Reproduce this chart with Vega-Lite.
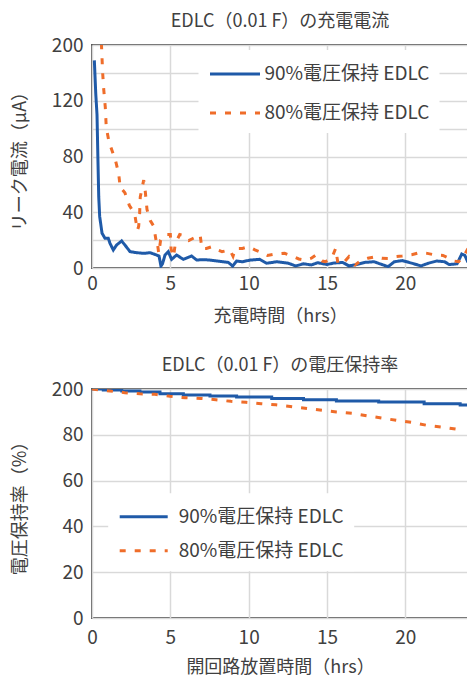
{
  "$schema": "https://vega.github.io/schema/vega-lite/v6.json",
  "padding": {"left": 10, "top": 12, "right": 0, "bottom": 0},
  "background": "white",
  "datasets": {
    "charge": [
      {"s":"90%電圧保持 EDLC","h":0.15,"v":149},{"s":"90%電圧保持 EDLC","h":0.24,"v":125},{"s":"90%電圧保持 EDLC","h":0.32,"v":110},{"s":"90%電圧保持 EDLC","h":0.38,"v":77},{"s":"90%電圧保持 EDLC","h":0.43,"v":51},{"s":"90%電圧保持 EDLC","h":0.49,"v":37},{"s":"90%電圧保持 EDLC","h":0.64,"v":25},{"s":"90%電圧保持 EDLC","h":0.83,"v":21.3},{"s":"90%電圧保持 EDLC","h":1.04,"v":21.3},{"s":"90%電圧保持 EDLC","h":1.15,"v":17.7},{"s":"90%電圧保持 EDLC","h":1.36,"v":12.9},{"s":"90%電圧保持 EDLC","h":1.57,"v":16.5},{"s":"90%電圧保持 EDLC","h":1.89,"v":19.4},{"s":"90%電圧保持 EDLC","h":2.1,"v":16.5},{"s":"90%電圧保持 EDLC","h":2.43,"v":11.7},{"s":"90%電圧保持 EDLC","h":2.85,"v":11},{"s":"90%電圧保持 EDLC","h":3.3,"v":10.5},{"s":"90%電圧保持 EDLC","h":3.7,"v":11},{"s":"90%電圧保持 EDLC","h":4.13,"v":9.3},{"s":"90%電圧保持 EDLC","h":4.28,"v":8.5},{"s":"90%電圧保持 EDLC","h":4.4,"v":1.4},{"s":"90%電圧保持 EDLC","h":4.5,"v":3},{"s":"90%電圧保持 EDLC","h":4.66,"v":9.3},{"s":"90%電圧保持 EDLC","h":4.87,"v":11.7},{"s":"90%電圧保持 EDLC","h":5.08,"v":6.2},{"s":"90%電圧保持 EDLC","h":5.4,"v":9.3},{"s":"90%電圧保持 EDLC","h":5.83,"v":6.2},{"s":"90%電圧保持 EDLC","h":6.36,"v":8.6},{"s":"90%電圧保持 EDLC","h":6.68,"v":5.7},{"s":"90%電圧保持 EDLC","h":7.1,"v":6},{"s":"90%電圧保持 EDLC","h":7.5,"v":5.7},{"s":"90%電圧保持 EDLC","h":8.0,"v":5},{"s":"90%電圧保持 EDLC","h":8.38,"v":4.5},{"s":"90%電圧保持 EDLC","h":8.7,"v":4},{"s":"90%電圧保持 EDLC","h":8.98,"v":1.4},{"s":"90%電圧保持 EDLC","h":9.23,"v":5},{"s":"90%電圧保持 EDLC","h":9.6,"v":4.5},{"s":"90%電圧保持 EDLC","h":10.1,"v":5.7},{"s":"90%電圧保持 EDLC","h":10.7,"v":6.2},{"s":"90%電圧保持 EDLC","h":11.15,"v":3.4},{"s":"90%電圧保持 EDLC","h":11.8,"v":4.5},{"s":"90%電圧保持 EDLC","h":12.5,"v":3.5},{"s":"90%電圧保持 EDLC","h":13.0,"v":1.5},{"s":"90%電圧保持 EDLC","h":13.5,"v":3},{"s":"90%電圧保持 EDLC","h":14.0,"v":2.2},{"s":"90%電圧保持 EDLC","h":14.4,"v":3.8},{"s":"90%電圧保持 EDLC","h":15.0,"v":2.5},{"s":"90%電圧保持 EDLC","h":15.4,"v":3.5},{"s":"90%電圧保持 EDLC","h":16.0,"v":4},{"s":"90%電圧保持 EDLC","h":16.4,"v":1.5},{"s":"90%電圧保持 EDLC","h":16.9,"v":2.5},{"s":"90%電圧保持 EDLC","h":17.4,"v":4},{"s":"90%電圧保持 EDLC","h":18.0,"v":4.5},{"s":"90%電圧保持 EDLC","h":18.5,"v":2.5},{"s":"90%電圧保持 EDLC","h":18.9,"v":1},{"s":"90%電圧保持 EDLC","h":19.3,"v":4.5},{"s":"90%電圧保持 EDLC","h":19.8,"v":5.3},{"s":"90%電圧保持 EDLC","h":20.4,"v":3.5},{"s":"90%電圧保持 EDLC","h":21.0,"v":1.5},{"s":"90%電圧保持 EDLC","h":21.5,"v":3.5},{"s":"90%電圧保持 EDLC","h":22.0,"v":5},{"s":"90%電圧保持 EDLC","h":22.5,"v":4.5},{"s":"90%電圧保持 EDLC","h":22.8,"v":2.5},{"s":"90%電圧保持 EDLC","h":23.3,"v":3},{"s":"90%電圧保持 EDLC","h":23.6,"v":10},{"s":"90%電圧保持 EDLC","h":23.8,"v":9},{"s":"90%電圧保持 EDLC","h":24,"v":4},
      {"s":"80%電圧保持 EDLC","h":0.56,"v":172},{"s":"80%電圧保持 EDLC","h":0.68,"v":140},{"s":"80%電圧保持 EDLC","h":0.75,"v":128},{"s":"80%電圧保持 EDLC","h":0.85,"v":115},{"s":"80%電圧保持 EDLC","h":0.91,"v":101},{"s":"80%電圧保持 EDLC","h":1.06,"v":92},{"s":"80%電圧保持 EDLC","h":1.13,"v":89},{"s":"80%電圧保持 EDLC","h":1.49,"v":77.5},{"s":"80%電圧保持 EDLC","h":1.7,"v":68},{"s":"80%電圧保持 EDLC","h":1.81,"v":57},{"s":"80%電圧保持 EDLC","h":1.95,"v":56},{"s":"80%電圧保持 EDLC","h":2.1,"v":54},{"s":"80%電圧保持 EDLC","h":2.38,"v":45},{"s":"80%電圧保持 EDLC","h":2.6,"v":41},{"s":"80%電圧保持 EDLC","h":2.75,"v":37},{"s":"80%電圧保持 EDLC","h":2.9,"v":27},{"s":"80%電圧保持 EDLC","h":2.98,"v":30},{"s":"80%電圧保持 EDLC","h":3.04,"v":39},{"s":"80%電圧保持 EDLC","h":3.08,"v":51},{"s":"80%電圧保持 EDLC","h":3.28,"v":62},{"s":"80%電圧保持 EDLC","h":3.3,"v":63},{"s":"80%電圧保持 EDLC","h":3.4,"v":55},{"s":"80%電圧保持 EDLC","h":3.51,"v":42},{"s":"80%電圧保持 EDLC","h":3.72,"v":34},{"s":"80%電圧保持 EDLC","h":3.94,"v":30},{"s":"80%電圧保持 EDLC","h":4.1,"v":19},{"s":"80%電圧保持 EDLC","h":4.15,"v":20},{"s":"80%電圧保持 EDLC","h":4.26,"v":10.5},{"s":"80%電圧保持 EDLC","h":4.38,"v":20},{"s":"80%電圧保持 EDLC","h":4.7,"v":24},{"s":"80%電圧保持 EDLC","h":5.0,"v":24},{"s":"80%電圧保持 EDLC","h":5.05,"v":13.5},{"s":"80%電圧保持 EDLC","h":5.2,"v":8},{"s":"80%電圧保持 EDLC","h":5.32,"v":17.7},{"s":"80%電圧保持 EDLC","h":5.6,"v":24},{"s":"80%電圧保持 EDLC","h":5.74,"v":23.7},{"s":"80%電圧保持 EDLC","h":6.05,"v":20},{"s":"80%電圧保持 EDLC","h":6.17,"v":19.6},{"s":"80%電圧保持 EDLC","h":6.4,"v":21},{"s":"80%電圧保持 EDLC","h":6.6,"v":22},{"s":"80%電圧保持 EDLC","h":6.9,"v":23.7},{"s":"80%電圧保持 EDLC","h":7.02,"v":14},{"s":"80%電圧保持 EDLC","h":7.3,"v":14},{"s":"80%電圧保持 EDLC","h":7.66,"v":15.3},{"s":"80%電圧保持 EDLC","h":8.0,"v":13},{"s":"80%電圧保持 EDLC","h":8.3,"v":11.7},{"s":"80%電圧保持 EDLC","h":8.8,"v":13},{"s":"80%電圧保持 EDLC","h":9.0,"v":8.5},{"s":"80%電圧保持 EDLC","h":9.15,"v":14},{"s":"80%電圧保持 EDLC","h":9.6,"v":14},{"s":"80%電圧保持 EDLC","h":10.0,"v":15.3},{"s":"80%電圧保持 EDLC","h":10.4,"v":13},{"s":"80%電圧保持 EDLC","h":10.7,"v":11.7},{"s":"80%電圧保持 EDLC","h":11.2,"v":9},{"s":"80%電圧保持 EDLC","h":11.7,"v":10},{"s":"80%電圧保持 EDLC","h":12.3,"v":10.5},{"s":"80%電圧保持 EDLC","h":12.8,"v":8.5},{"s":"80%電圧保持 EDLC","h":13.2,"v":6.5},{"s":"80%電圧保持 EDLC","h":13.6,"v":5.7},{"s":"80%電圧保持 EDLC","h":14.0,"v":7},{"s":"80%電圧保持 EDLC","h":14.3,"v":9.3},{"s":"80%電圧保持 EDLC","h":14.7,"v":5},{"s":"80%電圧保持 EDLC","h":14.9,"v":4.5},{"s":"80%電圧保持 EDLC","h":15.3,"v":7},{"s":"80%電圧保持 EDLC","h":15.55,"v":14},{"s":"80%電圧保持 EDLC","h":15.7,"v":3.3},{"s":"80%電圧保持 EDLC","h":16.0,"v":3},{"s":"80%電圧保持 EDLC","h":16.4,"v":8.1},{"s":"80%電圧保持 EDLC","h":16.8,"v":2.2},{"s":"80%電圧保持 EDLC","h":17.2,"v":5.7},{"s":"80%電圧保持 EDLC","h":17.6,"v":7},{"s":"80%電圧保持 EDLC","h":18.1,"v":8.1},{"s":"80%電圧保持 EDLC","h":18.5,"v":7},{"s":"80%電圧保持 EDLC","h":18.9,"v":6.9},{"s":"80%電圧保持 EDLC","h":19.3,"v":8},{"s":"80%電圧保持 EDLC","h":19.8,"v":8.6},{"s":"80%電圧保持 EDLC","h":20.4,"v":9.5},{"s":"80%電圧保持 EDLC","h":20.9,"v":11},{"s":"80%電圧保持 EDLC","h":21.4,"v":10.5},{"s":"80%電圧保持 EDLC","h":21.9,"v":9.3},{"s":"80%電圧保持 EDLC","h":22.4,"v":9},{"s":"80%電圧保持 EDLC","h":22.8,"v":6.9},{"s":"80%電圧保持 EDLC","h":23.1,"v":5},{"s":"80%電圧保持 EDLC","h":23.4,"v":4.5},{"s":"80%電圧保持 EDLC","h":23.7,"v":8},{"s":"80%電圧保持 EDLC","h":24,"v":14}
    ],
    "ret": [
      {"s":"90%電圧保持 EDLC","h":0,"v":100},{"s":"90%電圧保持 EDLC","h":0.72,"v":99.6},{"s":"90%電圧保持 EDLC","h":1.9,"v":99.1},{"s":"90%電圧保持 EDLC","h":3.06,"v":98.7},{"s":"90%電圧保持 EDLC","h":4.34,"v":97.9},{"s":"90%電圧保持 EDLC","h":5.83,"v":97.4},{"s":"90%電圧保持 EDLC","h":7.53,"v":96.9},{"s":"90%電圧保持 EDLC","h":9.23,"v":96.5},{"s":"90%電圧保持 EDLC","h":11.47,"v":95.9},{"s":"90%電圧保持 EDLC","h":13.5,"v":95.3},{"s":"90%電圧保持 EDLC","h":15.6,"v":94.8},{"s":"90%電圧保持 EDLC","h":18.3,"v":94.3},{"s":"90%電圧保持 EDLC","h":21.2,"v":93.6},{"s":"90%電圧保持 EDLC","h":23.5,"v":93.0},{"s":"90%電圧保持 EDLC","h":24,"v":93.0},
      {"s":"80%電圧保持 EDLC","h":0,"v":100},{"s":"80%電圧保持 EDLC","h":1.15,"v":99.1},{"s":"80%電圧保持 EDLC","h":2.1,"v":98.4},{"s":"80%電圧保持 EDLC","h":3.06,"v":97.9},{"s":"80%電圧保持 EDLC","h":4.02,"v":97.7},{"s":"80%電圧保持 EDLC","h":4.98,"v":96.8},{"s":"80%電圧保持 EDLC","h":5.94,"v":96.2},{"s":"80%電圧保持 EDLC","h":6.96,"v":95.9},{"s":"80%電圧保持 EDLC","h":7.91,"v":95.3},{"s":"80%電圧保持 EDLC","h":8.87,"v":94.6},{"s":"80%電圧保持 EDLC","h":9.83,"v":94.2},{"s":"80%電圧保持 EDLC","h":10.8,"v":93.6},{"s":"80%電圧保持 EDLC","h":11.74,"v":93.1},{"s":"80%電圧保持 EDLC","h":12.65,"v":92.4},{"s":"80%電圧保持 EDLC","h":13.6,"v":91.6},{"s":"80%電圧保持 EDLC","h":14.68,"v":90.7},{"s":"80%電圧保持 EDLC","h":15.6,"v":90},{"s":"80%電圧保持 EDLC","h":16.6,"v":89.4},{"s":"80%電圧保持 EDLC","h":17.55,"v":88.3},{"s":"80%電圧保持 EDLC","h":18.5,"v":87.3},{"s":"80%電圧保持 EDLC","h":19.46,"v":86.3},{"s":"80%電圧保持 EDLC","h":20.4,"v":85.4},{"s":"80%電圧保持 EDLC","h":21.4,"v":84.1},{"s":"80%電圧保持 EDLC","h":22.3,"v":83.4},{"s":"80%電圧保持 EDLC","h":23.3,"v":82.4},{"s":"80%電圧保持 EDLC","h":23.5,"v":81.7}
    ]
  },
  "spacing": 30,
  "resolve": {"legend": {"color": "independent", "strokeDash": "independent"}, "scale": {"x": "independent", "y": "independent"}},
  "vconcat": [
    {
      "title": {"text": "EDLC（0.01 F）の充電電流", "offset": 5},
      "width": 376,
      "height": 223,
      "data": {"name": "charge"},
      "mark": {"type": "line", "strokeWidth": 3, "clip": true},
      "encoding": {
        "x": {"field": "h", "type": "quantitative", "scale": {"domain": [0, 24], "nice": false},
              "axis": {"values": [0, 5, 10, 15, 20], "title": "充電時間（hrs）", "labelPadding": 6, "titlePadding": 14, "labelFlush": false}},
        "y": {"field": "v", "type": "quantitative", "scale": {"domain": [0, 160], "nice": false},
              "axis": {"values": [0, 20, 40, 60, 80, 100, 120, 140, 160], "labelExpr": "datum.value == 160 ? '200' : (datum.value % 40 == 0 ? datum.label : '')", "title": "リーク電流（μA）", "labelPadding": 9, "titlePadding": 22}},
        "color": {"field": "s", "type": "nominal",
                  "scale": {"domain": ["90%電圧保持 EDLC", "80%電圧保持 EDLC"], "range": ["#1f5aa8", "#ef6d2a"]},
                  "legend": {"orient": "none", "legendX": 106.5, "legendY": 5, "title": null, "symbolType": "M-1,0H3", "symbolSize": 625, "symbolStrokeWidth": 3, "labelOffset": 28, "rowPadding": 15, "padding": 10, "fillColor": "white"}},
        "strokeDash": {"field": "s", "type": "nominal",
                  "scale": {"domain": ["90%電圧保持 EDLC", "80%電圧保持 EDLC"], "range": [[1, 0], [6, 9]]},
                  "legend": {"orient": "none", "legendX": 106.5, "legendY": 5, "title": null, "symbolType": "M-1,0H3", "symbolSize": 625, "symbolStrokeWidth": 3, "labelOffset": 28, "rowPadding": 15, "padding": 10, "fillColor": "white"}}
      }
    },
    {
      "title": {"text": "EDLC（0.01 F）の電圧保持率", "offset": 5},
      "width": 376,
      "height": 229,
      "data": {"name": "ret"},
      "encoding": {
        "x": {"field": "h", "type": "quantitative", "scale": {"domain": [0, 24], "nice": false},
              "axis": {"values": [0, 5, 10, 15, 20], "title": "開回路放置時間（hrs）", "labelPadding": 10, "titlePadding": 11, "labelFlush": false}},
        "y": {"field": "v", "type": "quantitative", "scale": {"domain": [0, 100], "nice": false},
              "axis": {"values": [0, 20, 40, 60, 80, 100], "labelExpr": "datum.value == 100 ? '200' : datum.label", "title": "電圧保持率（%）", "labelPadding": 9, "titlePadding": 22}},
        "color": {"field": "s", "type": "nominal",
                  "scale": {"domain": ["90%電圧保持 EDLC", "80%電圧保持 EDLC"], "range": ["#1f5aa8", "#ef6d2a"]},
                  "legend": {"orient": "none", "legendX": 16.2, "legendY": 104.2, "title": null, "symbolType": "M-1,0H3", "symbolSize": 576, "symbolStrokeWidth": 3, "labelOffset": 33.5, "rowPadding": 10, "padding": 10, "fillColor": "white"}},
        "strokeDash": {"field": "s", "type": "nominal",
                  "scale": {"domain": ["90%電圧保持 EDLC", "80%電圧保持 EDLC"], "range": [[1, 0], [6, 9]]},
                  "legend": {"orient": "none", "legendX": 16.2, "legendY": 104.2, "title": null, "symbolType": "M-1,0H3", "symbolSize": 576, "symbolStrokeWidth": 3, "labelOffset": 33.5, "rowPadding": 10, "padding": 10, "fillColor": "white"}}
      },
      "layer": [
        {"transform": [{"filter": {"field": "s", "equal": "90%電圧保持 EDLC"}}], "mark": {"type": "line", "interpolate": "step-after", "strokeWidth": 3, "clip": true}},
        {"transform": [{"filter": {"field": "s", "equal": "80%電圧保持 EDLC"}}], "mark": {"type": "line", "strokeWidth": 3, "clip": true}}
      ]
    }
  ],
  "config": {
    "font": "Noto Sans CJK JP",
    "view": {"stroke": "#595959", "strokeWidth": 2},
    "axis": {"domain": false, "ticks": false, "grid": true, "gridColor": "#d9d9d9", "gridWidth": 1.5,
             "labelFontSize": 19, "labelColor": "#404040", "labelFontWeight": "normal", "labelFont": "Noto Sans CJK JP",
             "titleFontSize": 18, "titleColor": "#404040", "titleFontWeight": "normal", "titleFont": "Noto Sans CJK JP"},
    "title": {"fontSize": 18, "fontWeight": "normal", "color": "#404040", "anchor": "middle", "font": "Noto Sans CJK JP"},
    "legend": {"labelFontSize": 19, "labelColor": "#404040", "labelFontWeight": "normal", "labelFont": "Noto Sans CJK JP", "labelLimit": 300}
  }
}
